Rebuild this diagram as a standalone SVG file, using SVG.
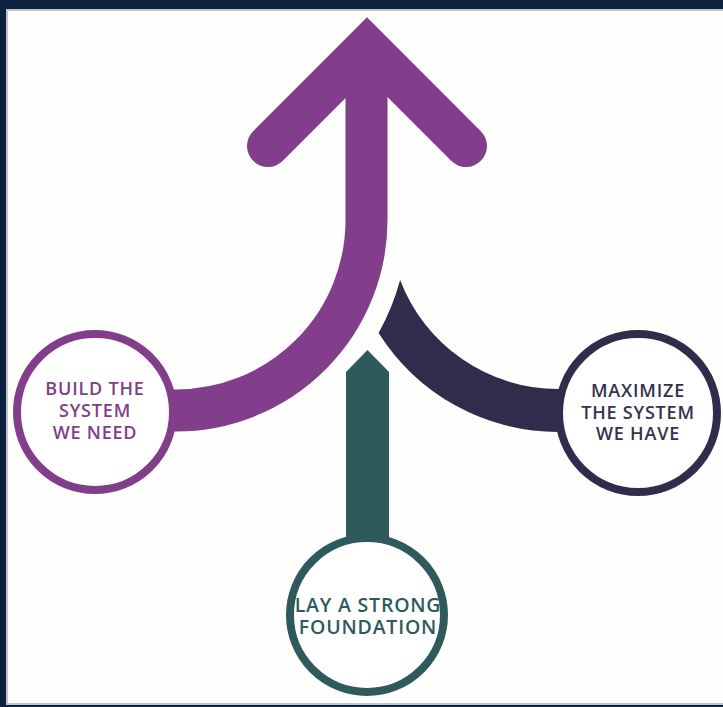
<svg xmlns="http://www.w3.org/2000/svg" width="723" height="707" viewBox="0 0 723 707">
  <style>
    .lbl { font-family: "Open Sans", "Noto Sans", "Liberation Sans", sans-serif; font-weight: 600; text-anchor: middle; letter-spacing: 0.8px; }
    .ring { fill: #ffffff; stroke-width: 8; }
  </style>
  <rect x="0" y="0" width="723" height="707" fill="#0c2340"/>
  <rect x="7" y="10" width="720" height="694" fill="#fefefd" stroke="#c4c4c4" stroke-width="2"/>

  <g id="connectors">
    <path id="arrow-head" d="M268,146 L367,47 L466,146" fill="none" stroke="#823e8b" stroke-width="42" stroke-linecap="round" stroke-linejoin="miter"/>
    <path id="arrow-shaft" d="M366.5,70 V220 A190.5,190.5 0 0 1 176,410.5 H120" fill="none" stroke="#823e8b" stroke-width="42"/>
    <path id="maximize-band" d="M400.1,280.1 A169,169 0 0 0 558,389 H600 V432 H558 A212,212 0 0 1 378.6,333 A232,232 0 0 0 400.1,280.1 Z" fill="#2f2d4b"/>
    <path id="foundation-stem" d="M346,372 L367.5,350 L389,372 V550 H346 Z" fill="#2e5a5b"/>
  </g>

  <g id="node-build">
    <circle class="ring" cx="95" cy="412" r="78" stroke="#823e8b"/>
    <text class="lbl" fill="#823e8b" font-size="18"><tspan x="95" y="395">BUILD THE</tspan><tspan x="95" y="417">SYSTEM</tspan><tspan x="95" y="439">WE NEED</tspan></text>
  </g>

  <g id="node-maximize">
    <circle class="ring" cx="638" cy="413" r="79" stroke="#2f2d4b"/>
    <text class="lbl" fill="#34324d" font-size="18"><tspan x="638" y="397">MAXIMIZE</tspan><tspan x="638" y="419">THE SYSTEM</tspan><tspan x="638" y="440">WE HAVE</tspan></text>
  </g>

  <g id="node-foundation">
    <circle class="ring" cx="367" cy="615" r="77" stroke="#2e5a5b"/>
    <text class="lbl" fill="#2e5a5b" font-size="19.5"><tspan x="368" y="612">LAY A STRONG</tspan><tspan x="368" y="634">FOUNDATION</tspan></text>
  </g>
</svg>
